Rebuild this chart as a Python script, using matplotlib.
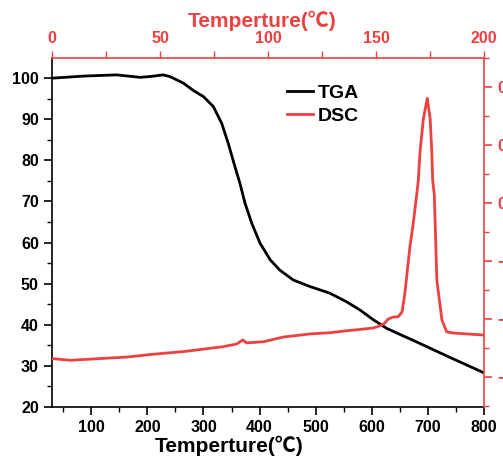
import matplotlib
matplotlib.use("Agg")
import matplotlib.pyplot as plt
from matplotlib.ticker import MultipleLocator

red = "#ec4141"
fam = ["Liberation Sans", "Noto Sans CJK SC", "DejaVu Sans"]
plt.rcParams["font.family"] = fam
plt.rcParams["font.weight"] = "bold"

# TGA (weight %), bottom temperature axis
tga_t = [30, 86, 145, 187, 205, 228, 240, 264, 282, 300, 317.5, 332.5, 344, 356, 365,
         374, 386, 401, 419, 436, 460, 490, 525, 555, 579, 603, 627, 656, 674, 704,
         734, 763, 800]
tga_w = [100.0, 100.5, 100.8, 100.2, 100.4, 100.8, 100.4, 98.8, 97.0, 95.5, 93.1, 89.0,
         84.2, 78.5, 74.4, 69.6, 64.7, 59.8, 55.8, 53.3, 50.9, 49.3, 47.7, 45.6, 43.6,
         41.2, 39.1, 37.3, 36.2, 34.3, 32.4, 30.6, 28.3]

# DSC (right axis)
dsc_t = [30, 62, 116, 163, 205, 264, 294, 335, 359, 370, 377, 407, 442, 490, 525, 556,
         602, 615, 623, 629, 638, 647, 654, 659, 668, 674, 680, 683, 686, 692, 699,
         704, 707, 708.5, 711.5, 716, 725, 733.5, 745, 800]
dsc_v = [-0.536, -0.542, -0.536, -0.531, -0.522, -0.512, -0.505, -0.495, -0.486, -0.472,
         -0.482, -0.478, -0.462, -0.451, -0.447, -0.440, -0.431, -0.423, -0.414, -0.400,
         -0.393, -0.392, -0.375, -0.311, -0.150, -0.069, 0.028, 0.079, 0.177, 0.291,
         0.361, 0.291, 0.177, 0.079, 0.028, -0.266, -0.403, -0.444, -0.448, -0.455]

bottom_ticks = [100, 200, 300, 400, 500, 600, 700, 800]
top_ticks = [0, 50, 100, 150, 200]

fig = plt.figure(figsize=(5.03, 4.66), dpi=100)
ax = fig.add_axes([0.1034, 0.1266, 0.8588, 0.7489])
axr = ax.twinx()
axt = ax.twiny()

ax.plot(tga_t, tga_w, color="black", lw=2.0, label="TGA", solid_joinstyle="round")
axr.plot(dsc_t, dsc_v, color=red, lw=2.0, label="DSC", solid_joinstyle="round")

ax.set_xlim(30, 800)
ax.set_ylim(20, 104.9)
axr.set_ylim(-0.703, 0.5)
axt.set_xlim(0, 200)

ax.set_xticks(bottom_ticks)
ax.xaxis.set_minor_locator(MultipleLocator(50))
ax.yaxis.set_major_locator(MultipleLocator(10))
ax.yaxis.set_minor_locator(MultipleLocator(5))
axr.yaxis.set_major_locator(MultipleLocator(0.2))
axr.yaxis.set_minor_locator(MultipleLocator(0.1))
axt.set_xticks(top_ticks)
axt.xaxis.set_minor_locator(MultipleLocator(25))

for a in (ax, axr, axt):
    for s in a.spines.values():
        s.set_visible(False)
ax.spines["left"].set_visible(True)
ax.spines["bottom"].set_visible(True)
axr.spines["right"].set_visible(True)
axr.spines["right"].set_color(red)
axt.spines["top"].set_visible(True)
axt.spines["top"].set_color(red)
for s in ("left", "bottom"):
    ax.spines[s].set_linewidth(1.2)
axr.spines["right"].set_linewidth(1.2)
axt.spines["top"].set_linewidth(1.2)

ax.tick_params(which="major", direction="out", length=6, width=1.2, labelsize=11.5)
ax.tick_params(which="minor", direction="out", length=3.5, width=1.0)
axr.tick_params(which="major", direction="out", length=6, width=1.2, colors=red,
                labelsize=11.5)
axr.tick_params(which="minor", direction="out", length=3.5, width=1.0, colors=red)
axt.tick_params(which="both", direction="out", length=5, width=1.0, colors=red,
                labelsize=11.5)

ax.set_xlabel("Temperture(℃)", fontsize=15, fontweight="bold")
ax.xaxis.set_label_coords(0.41, -0.083)
axt.set_xlabel("Temperture(℃)", fontsize=15, fontweight="bold", color=red)
axt.xaxis.set_label_coords(0.486, 1.088)

h1, l1 = ax.get_legend_handles_labels()
h2, l2 = axr.get_legend_handles_labels()
axt.legend(h1 + h2, l1 + l2, loc="upper left", bbox_to_anchor=(0.544, 0.925),
           frameon=False, handlelength=1.34, handletextpad=0.26, borderpad=0,
           borderaxespad=0, labelspacing=0.28, prop={"weight": "bold", "size": 14})

fig.savefig("out.png", dpi=100)
